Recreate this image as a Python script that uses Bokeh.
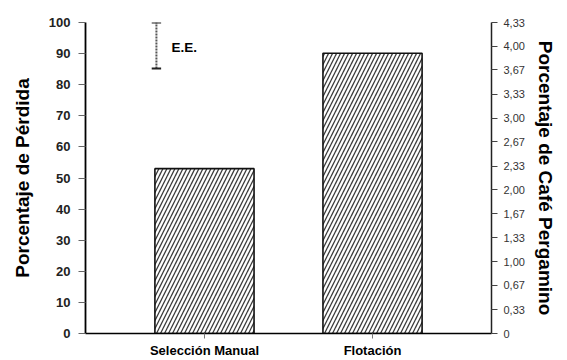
import math
from bokeh.plotting import figure
from bokeh.models import (FactorRange, Range1d, LinearAxis, FixedTicker, CustomJSTickFormatter,
                          Label, ColumnDataSource, Whisker, Title)
from bokeh.embed import file_html
from bokeh.resources import INLINE

categories = ["Selección Manual", "Flotación"]
perdida = [53.0, 90.1]
left_ticks = [0, 10, 20, 30, 40, 50, 60, 70, 80, 90, 100]
right_ticks = [0, 0.33, 0.67, 1.00, 1.33, 1.67, 2.00, 2.33, 2.67, 3.00, 3.33, 3.67, 4.00, 4.33]
ee_upper = 100
ee_lower = 85.2

FONT = "Liberation Sans"

p = figure(width=567, height=360, output_backend="svg", toolbar_location=None,
           x_range=FactorRange(*categories, range_padding=0.208, range_padding_units="absolute"),
           y_range=Range1d(0, 100),
           min_border_left=85, min_border_right=76, min_border_top=22, min_border_bottom=27)
p.outline_line_color = None
p.xgrid.grid_line_color = None
p.ygrid.grid_line_color = None
p.background_fill_color = "white"
p.border_fill_color = "white"

src = ColumnDataSource(dict(x=categories, top=perdida))
p.vbar(x="x", top="top", width=0.59, source=src, fill_color="white",
       line_color="#111111", line_width=1.6,
       hatch_pattern="/", hatch_scale=8, hatch_weight=1.3, hatch_color="#3a3a3a")

# left axis
ya = p.yaxis[0]
ya.ticker = FixedTicker(ticks=left_ticks)
ya.axis_label = "Porcentaje de Pérdida"
ya.axis_label_text_font = FONT
ya.axis_label_text_font_style = "bold"
ya.axis_label_text_font_size = "19px"
ya.axis_label_text_color = "black"
ya.axis_label_standoff = 13
ya.major_label_text_font = FONT
ya.major_label_text_font_style = "bold"
ya.major_label_text_font_size = "13px"
ya.major_label_text_color = "#222222"
ya.major_label_standoff = 8
ya.major_tick_out = 7
ya.major_tick_in = 0
ya.major_tick_line_color = "#666666"
ya.minor_tick_line_color = None
ya.axis_line_width = 1.8
ya.axis_line_color = "black"
ya.major_tick_line_width = 1.2

# right axis
p.extra_y_ranges = {"cafe": Range1d(0, 4.33)}
ra = LinearAxis(y_range_name="cafe",
                ticker=FixedTicker(ticks=right_ticks),
                formatter=CustomJSTickFormatter(code="return tick == 0 ? '0' : tick.toFixed(2).replace('.', ',');"))
ra.major_label_text_font = FONT
ra.major_label_text_font_size = "11px"
ra.major_label_text_color = "#333333"
ra.major_label_standoff = 6
ra.major_tick_out = 6
ra.major_tick_in = 0
ra.major_tick_line_color = "#444444"
ra.minor_tick_line_color = None
ra.axis_line_width = 1.5
ra.axis_line_color = "#222222"
p.add_layout(ra, "right")

# right-side title (reads top to bottom)
p.add_layout(Title(text="Porcentaje de Café Pergamino", align="center", standoff=14,
                   text_font=FONT, text_font_style="bold", text_font_size="19px",
                   text_color="black"), "right")

# bottom axis
xa = p.xaxis[0]
xa.major_label_text_font = FONT
xa.major_label_text_font_style = "bold"
xa.major_label_text_font_size = "13px"
xa.major_label_text_color = "black"
xa.major_label_standoff = 4
xa.major_tick_out = 5
xa.major_tick_in = 0
xa.axis_line_width = 1.6
xa.axis_line_color = "black"
xa.major_tick_line_color = "#777777"

# E.E. error bar
eb = ColumnDataSource(dict(x=[("Selección Manual", -0.286)], lo=[ee_lower], hi=[ee_upper]))
p.add_layout(Whisker(base="x", lower="lo", upper="hi", source=eb,
                     line_color="#555555", line_width=2, line_dash="2 1",
                     upper_head=None, lower_head=None))
p.segment(x0=[("Selección Manual", -0.314)], x1=[("Selección Manual", -0.258)],
          y0=[ee_upper], y1=[ee_upper], line_color="#222222", line_width=2)
p.segment(x0=[("Selección Manual", -0.314)], x1=[("Selección Manual", -0.258)],
          y0=[ee_lower], y1=[ee_lower], line_color="#222222", line_width=2)
p.add_layout(Label(x=0.5, y=92.1, x_offset=-33, text="E.E.", text_font=FONT,
                   text_font_style="bold", text_font_size="13.5px", text_baseline="middle",
                   text_color="black"))

open("out.html", "w").write(file_html(p, INLINE))
